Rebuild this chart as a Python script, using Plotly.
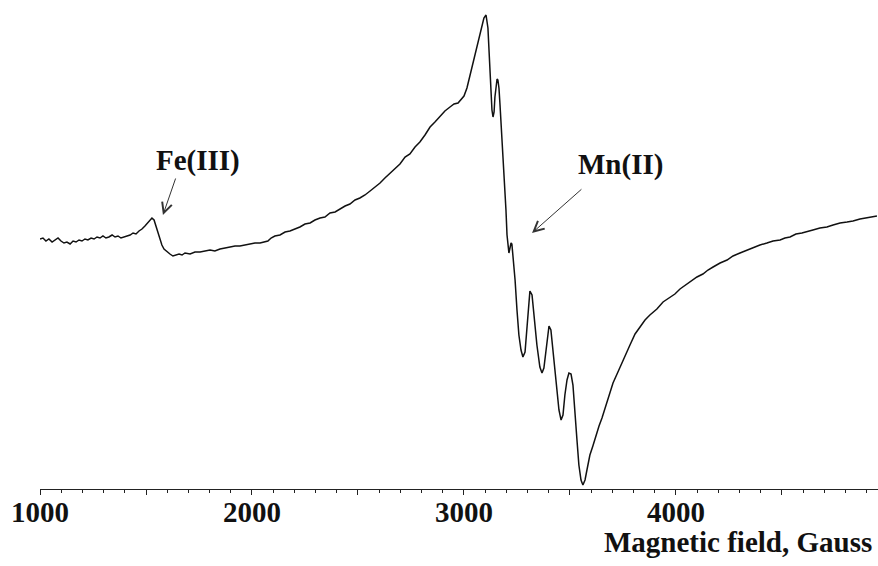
import plotly.graph_objects as go

# EPR spectrum: magnetic field (Gauss) vs. first-derivative signal (arbitrary units)
field_gauss = [
    1000, 1014, 1028, 1042, 1057, 1071, 1085, 1099, 1113, 1127,
    1142, 1156, 1170, 1184, 1198, 1212, 1226, 1241, 1255, 1269,
    1283, 1297, 1311, 1325, 1340, 1354, 1368, 1382, 1396, 1410,
    1425, 1439, 1453, 1467, 1481, 1495, 1509, 1519, 1528, 1538,
    1547, 1557, 1566, 1575, 1585, 1599, 1613, 1627, 1642, 1656,
    1670, 1684, 1708, 1731, 1755, 1778, 1802, 1825, 1849, 1873,
    1896, 1920, 1943, 1967, 1991, 2014, 2038, 2061, 2075, 2090,
    2108, 2132, 2156, 2179, 2203, 2226, 2250, 2274, 2297, 2321,
    2344, 2368, 2392, 2415, 2439, 2462, 2486, 2509, 2533, 2557,
    2580, 2604, 2627, 2651, 2675, 2698, 2722, 2745, 2769, 2792,
    2816, 2840, 2863, 2887, 2910, 2934, 2953, 2972, 2986, 3000,
    3014, 3028, 3042, 3057, 3071, 3085, 3094, 3104, 3113, 3118,
    3123, 3127, 3132, 3137, 3142, 3146, 3151, 3156, 3160, 3165,
    3170, 3179, 3189, 3198, 3203, 3208, 3212, 3217, 3222, 3226,
    3231, 3241, 3250, 3259, 3269, 3278, 3288, 3297, 3307, 3311,
    3321, 3330, 3344, 3358, 3368, 3377, 3387, 3396, 3401, 3410,
    3420, 3434, 3448, 3458, 3467, 3476, 3486, 3495, 3505, 3514,
    3524, 3533, 3542, 3552, 3561, 3571, 3580, 3594, 3608, 3623,
    3637, 3651, 3670, 3689, 3703, 3722, 3736, 3760, 3783, 3807,
    3830, 3854, 3877, 3910, 3939, 3972, 3995, 4019, 4047, 4075,
    4099, 4127, 4151, 4175, 4208, 4241, 4269, 4302, 4335, 4363,
    4396, 4429, 4458, 4491, 4514, 4538, 4566, 4594, 4623, 4646,
    4679, 4712, 4741, 4774, 4807, 4835, 4868, 4892, 4915, 4948,
]

signal_au = [
    250, 251, 248, 250, 247, 249, 251, 248, 246, 247,
    245, 248, 247, 249, 248, 250, 249, 251, 250, 252,
    251, 253, 251, 252, 254, 252, 253, 251, 252, 253,
    254, 256, 255, 258, 260, 263, 266, 269, 271, 269,
    263, 255, 249, 244, 240, 237, 235, 233, 234, 235,
    234, 236, 235, 237, 237, 238, 239, 238, 240, 241,
    242, 243, 243, 244, 245, 246, 246, 247, 248, 251,
    253, 254, 257, 258, 260, 262, 265, 266, 269, 271,
    272, 276, 277, 280, 283, 285, 289, 291, 294, 298,
    302, 306, 311, 316, 321, 325, 332, 335, 342, 347,
    354, 362, 367, 373, 378, 382, 385, 386, 390, 393,
    401, 413, 426, 439, 452, 464, 471, 474, 461, 439,
    414, 394, 379, 372, 377, 392, 404, 410, 409, 401,
    384, 354, 319, 279, 254, 239, 236, 241, 246, 245,
    234, 209, 179, 154, 139, 132, 137, 159, 189, 198,
    194, 174, 144, 122, 116, 121, 141, 159, 163, 159,
    139, 104, 79, 69, 74, 94, 109, 116, 115, 104,
    79, 49, 24, 9, 4, 9, 19, 34, 43, 54,
    63, 71, 84, 96, 106, 115, 122, 133, 144, 155,
    162, 169, 174, 180, 187, 192, 195, 200, 204, 208,
    212, 215, 219, 222, 226, 229, 233, 236, 239, 241,
    244, 246, 248, 249, 251, 252, 255, 256, 258, 259,
    261, 262, 264, 266, 267, 268, 270, 271, 272, 273,
]

# Axis ticks: long ticks every 500 G, labels on the thousands
tick_values = [1000, 1500, 2000, 2500, 3000, 3500, 4000, 4500]
tick_text = ["1000", "", "2000", "", "3000", "", "4000", ""]

# Peak labels with arrow tail/tip positions (field, signal)
labels = ["Fe(III)", "Mn(II)"]
label_field = [1745, 3736]
label_signal = [329, 325]
arrow_tail_field = [1642, 3561]
arrow_tail_signal = [312, 301]
arrow_tip_field = [1580, 3321]
arrow_tip_signal = [274, 256]

FONT = "Liberation Serif, Times New Roman, serif"

fig = go.Figure()
fig.add_trace(go.Scatter(
    x=field_gauss, y=signal_au, mode="lines",
    line=dict(color="#111111", width=1.5),
    hoverinfo="skip", showlegend=False,
))

annotations = []
for txt, fx, sy in zip(labels, label_field, label_signal):
    annotations.append(dict(
        x=fx, y=sy, xref="x", yref="y", text=txt, showarrow=False,
        xanchor="center", yanchor="middle",
        font=dict(family=FONT, size=29, color="#111111", weight="bold"),
    ))
for tx, ty, hx, hy in zip(arrow_tail_field, arrow_tail_signal,
                          arrow_tip_field, arrow_tip_signal):
    annotations.append(dict(
        x=hx, y=hy, ax=tx, ay=ty, xref="x", yref="y", axref="x", ayref="y",
        text="", showarrow=True, arrowhead=5, arrowsize=2,
        arrowwidth=1, arrowcolor="#333333", standoff=0, startstandoff=0,
    ))
annotations.append(dict(
    x=0.9952, y=-0.1084, xref="paper", yref="paper",
    text="Magnetic field, Gauss", showarrow=False,
    xanchor="right", yanchor="middle",
    font=dict(family=FONT, size=29, color="#111111", weight="bold"),
))

fig.update_layout(
    width=878, height=566,
    margin=dict(l=40, r=0, t=0, b=77),
    paper_bgcolor="white", plot_bgcolor="white",
    annotations=annotations,
    xaxis=dict(
        range=[1000, 4953],
        tickmode="array", tickvals=tick_values, ticktext=tick_text,
        ticks="outside", ticklen=5, tickwidth=1, tickcolor="#222222",
        ticklabelstandoff=-8,
        showline=True, linecolor="#222222", linewidth=1.3,
        showgrid=False, zeroline=False,
        tickfont=dict(family=FONT, size=29, color="#111111", weight="bold"),
        minor=dict(tickmode="linear", tick0=1000, dtick=100,
                   ticks="outside", ticklen=3, tickcolor="#222222",
                   showgrid=False),
    ),
    yaxis=dict(range=[0, 489], visible=False, showgrid=False, zeroline=False),
)

fig.write_html("out.html")
